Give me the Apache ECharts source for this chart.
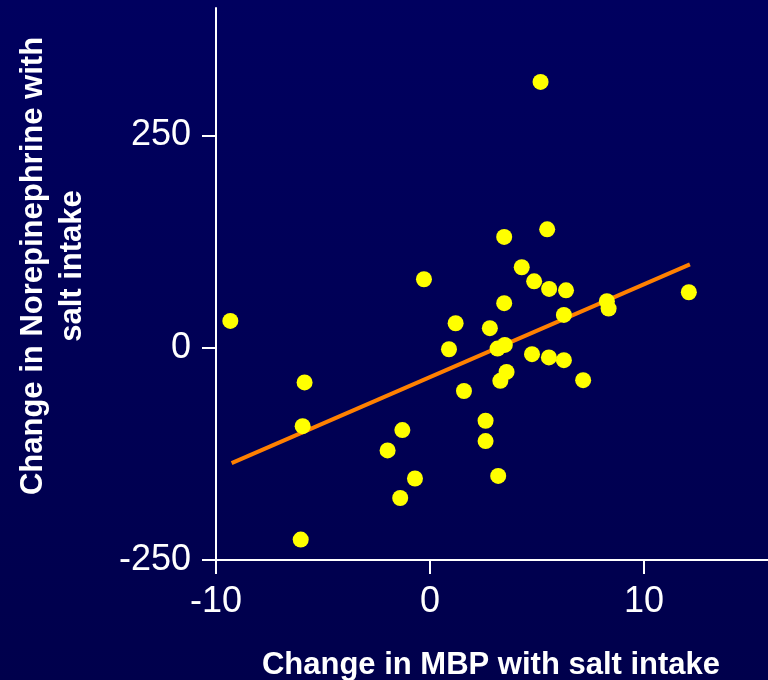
<!DOCTYPE html>
<html>
<head>
<meta charset="utf-8">
<script src="https://cdn.jsdelivr.net/npm/echarts@6/dist/echarts.min.js"></script>
<style>
html,body{margin:0;padding:0;background:#00005a;}
#chart{width:768px;height:680px;}
</style>
</head>
<body>
<div id="chart"></div>
<script>
// Change in MBP with salt intake (x) vs change in Norepinephrine (y)
const mbpChange = [-9.33,-5.86,-5.95,-6.04,-1.98,-1.29,-1.39,-0.70,-0.28,0.89,1.20,1.59,2.80,2.60,2.60,3.19,3.16,3.50,3.29,3.58,3.47,3.47,4.29,4.77,4.87,5.17,5.48,5.57,5.56,6.26,6.36,6.26,7.16,8.27,8.35,12.10];
const norepiChange = [31.5,-40.9,-92.4,-226,-121,-97,-177,-154,80.6,-1.8,28.8,-51,23,-86,-110,-151,-1,3.3,-39,-28.5,52.4,130.4,94.7,-7.6,78.2,313,139.4,69.2,-11.5,38.6,67.6,-14.7,-38.2,54.7,46.1,65.3];
const fitX = [-9.27, 12.15];
const fitY = [-135.9, 98.2];
const xTicks = [-10, 0, 10];
const yTicks = [-250, 0, 250];
const xTitle = 'Change in MBP with salt intake';
const yTitle = 'Change in Norepinephrine with\nsalt intake';

const chart = echarts.init(document.getElementById('chart'), null, {renderer: 'canvas'});
const font = '"Liberation Sans", Arial, sans-serif';
const points = mbpChange.map((x, i) => [x, norepiChange[i]]);
const fitLine = fitX.map((x, i) => [x, fitY[i]]);

chart.setOption({
  animation: false,
  backgroundColor: {
    type: 'linear', x: 0, y: 0, x2: 0, y2: 1,
    colorStops: [{offset: 0, color: '#00005f'}, {offset: 1, color: '#00004c'}]
  },
  grid: {left: 216, right: 0, top: 8, bottom: 120, containLabel: false},
  xAxis: {
    type: 'value', min: -10, max: 15.8, interval: 10,
    splitLine: {show: false},
    axisLine: {show: true, onZero: false, lineStyle: {color: '#ffffff', width: 2}},
    axisTick: {show: true, length: 14, inside: false, customValues: xTicks, lineStyle: {color: '#ffffff', width: 2}},
    axisLabel: {color: '#ffffff', fontSize: 36, fontFamily: font, margin: 24, customValues: xTicks}
  },
  yAxis: {
    type: 'value', min: -250, max: 400, interval: 250,
    splitLine: {show: false},
    axisLine: {show: true, onZero: false, lineStyle: {color: '#ffffff', width: 2}},
    axisTick: {show: true, length: 14, inside: false, customValues: yTicks, lineStyle: {color: '#ffffff', width: 2}},
    axisLabel: {color: '#ffffff', fontSize: 36, fontFamily: font, margin: 25, customValues: yTicks}
  },
  series: [
    {
      type: 'line', data: fitLine, showSymbol: false, symbol: 'none',
      lineStyle: {color: '#ff8000', width: 4}, z: 2, silent: true
    },
    {
      type: 'scatter', data: points, symbol: 'circle', symbolSize: 16,
      itemStyle: {color: '#ffff00', opacity: 1}, z: 3
    }
  ],
  graphic: [
    {
      type: 'text', x: 491, y: 665,
      style: {text: xTitle, fill: '#ffffff', font: 'bold 31px ' + font, align: 'center', verticalAlign: 'middle'}
    },
    {
      type: 'text', x: 53, y: 266, rotation: Math.PI / 2,
      style: {text: yTitle, fill: '#ffffff', font: 'bold 31px ' + font, align: 'center', verticalAlign: 'middle', lineHeight: 39}
    }
  ]
});
</script>
</body>
</html>
